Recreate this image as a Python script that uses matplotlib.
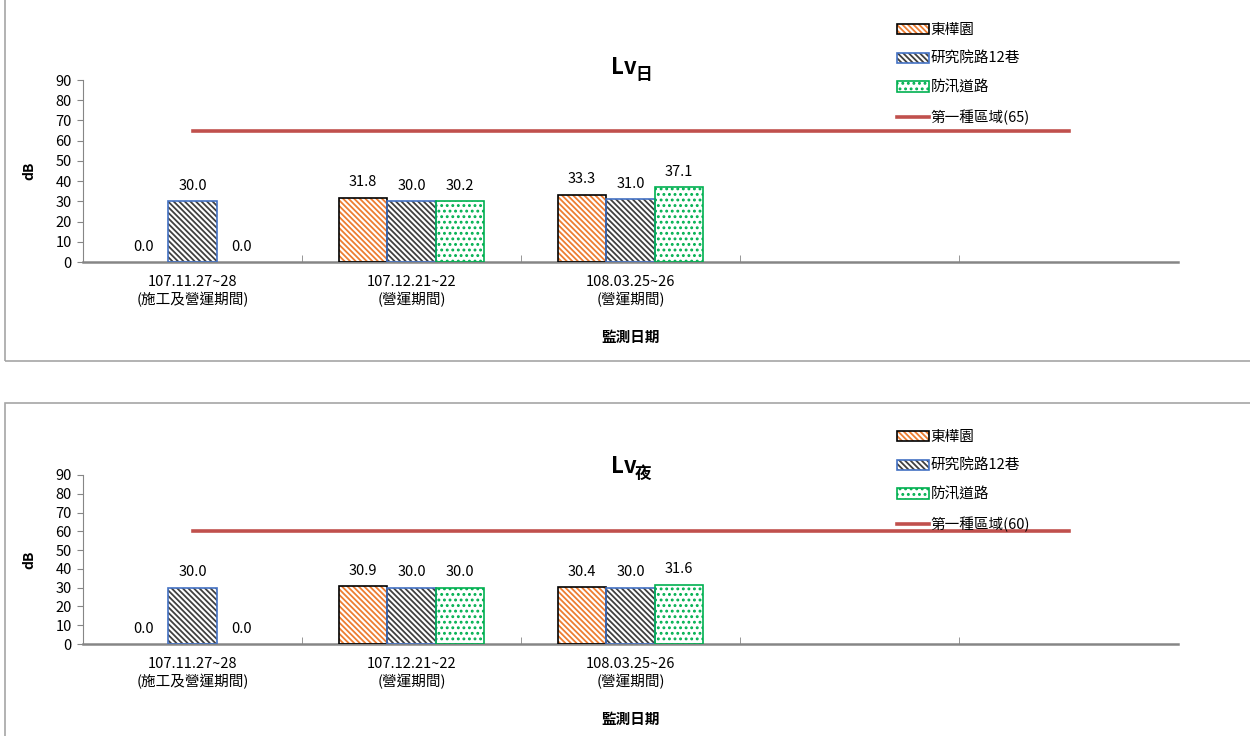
import matplotlib
matplotlib.use("Agg")
import matplotlib.pyplot as plt
from matplotlib.patches import Rectangle, Patch
from matplotlib.lines import Line2D
from matplotlib.legend_handler import HandlerTuple
import numpy as np

plt.rcParams['font.family'] = ['Noto Sans CJK TC', 'DejaVu Sans']
plt.rcParams['hatch.linewidth'] = 1.3

# categories (last two are empty slots in the original sheet)
dates = ["107.11.27~28\n(施工及營運期間)", "107.12.21~22\n(營運期間)",
         "108.03.25~26\n(營運期間)", "", ""]
stations = ["東樺園", "研究院路12巷", "防汛道路"]

# Lv day
day_a = [0.0, 31.8, 33.3]
day_b = [30.0, 30.0, 31.0]
day_c = [0.0, 30.2, 37.1]
day_limit = 65
day_limit_label = "第一種區域(65)"

# Lv night
night_a = [0.0, 30.9, 30.4]
night_b = [30.0, 30.0, 30.0]
night_c = [0.0, 30.0, 31.6]
night_limit = 60
night_limit_label = "第一種區域(60)"

hatch_cols = ['#ED7D31', '#404040', '#00B050']
edge_cols = ['#000000', '#4472C4', '#00B050']
hatches = ['\\' * 6, '\\' * 6, '...']
line_col = '#C0504D'

fig = plt.figure(figsize=(12.5, 7.36), dpi=100)

# panel frames
for y0, y1 in [(361, -5), (741, 403)]:
    fig.patches.append(Rectangle((5 / 1250, 1 - y0 / 736), 1.0, (y0 - y1) / 736,
                                 transform=fig.transFigure, fill=False,
                                 edgecolor='#A6A6A6', lw=1.2, zorder=0))


def draw_panel(ax, series, limit, limit_label, title_sub, ymax_px, title_y):
    x = np.arange(len(series[0]))
    w = 0.222
    handles = []
    for i, vals in enumerate(series):
        pos = x + (i - 1) * w
        lws = [1.2 if v > 0 else 0 for v in vals]
        ax.bar(pos, vals, w, color='white', edgecolor=hatch_cols[i],
               hatch=hatches[i], lw=0, zorder=2)
        ax.bar(pos, vals, w, fill=False, edgecolor=edge_cols[i], lw=lws, zorder=3)
        for p, v in zip(pos, vals):
            ax.annotate(f"{v:.1f}", (p, v), xytext=(0, 6), textcoords='offset points',
                        ha='center', va='bottom', fontsize=10.5)
        h1 = Patch(facecolor='white', edgecolor=hatch_cols[i], hatch=hatches[i], lw=0)
        h2 = Patch(fill=False, edgecolor=edge_cols[i], lw=1.2)
        handles.append((h1, h2))
    ax.plot(np.arange(len(dates)), [limit] * len(dates), color=line_col, lw=2.6, zorder=4)
    handles.append(Line2D([0], [0], color=line_col, lw=2.6))

    ax.set_xlim(-0.5, len(dates) - 0.5)
    ax.set_ylim(0, 90)
    ax.set_yticks(range(0, 91, 10))
    ax.set_xticks(range(len(dates)))
    ax.set_xticklabels(dates, fontsize=10.5, linespacing=1.25)
    ax.tick_params(axis='x', length=0, pad=9)
    ax.set_xticks(np.arange(0.5, len(dates) - 0.5), minor=True)
    ax.tick_params(axis='x', which='minor', direction='in', length=5, color='#868686')
    ax.tick_params(axis='y', labelsize=10.5, length=4, color='#868686', pad=4)
    for s in ['top', 'right']:
        ax.spines[s].set_visible(False)
    ax.spines['left'].set_color('#868686')
    ax.spines['bottom'].set_color('#868686')
    ax.spines['bottom'].set_linewidth(1.8)
    ax.set_ylabel("dB", fontsize=10, fontweight='bold', labelpad=14)
    ax.set_xlabel("監測日期", fontsize=10.5, fontweight='bold', labelpad=16)

    fig.legend(handles, stations + [limit_label], loc='upper left',
               bbox_to_anchor=(890 / 1250, 1 - ymax_px / 736),
               handler_map={tuple: HandlerTuple(ndivide=1)},
               frameon=False, fontsize=10.5, handlelength=2.2, handleheight=0.7,
               handletextpad=0.1, labelspacing=1.0, borderpad=0)

    fig.text(611 / 1250, 1 - title_y / 736, "Lv", fontsize=16, fontweight='bold',
             va='baseline', ha='left')
    fig.text(635 / 1250, 1 - (title_y + 6) / 736, title_sub, fontsize=12,
             fontweight='bold', va='baseline', ha='left')


ax1 = fig.add_axes([83 / 1250, 1 - 262 / 736, 1095 / 1250, 182 / 736])
draw_panel(ax1, [day_a, day_b, day_c], day_limit, day_limit_label, "日", 16, 74)

ax2 = fig.add_axes([83 / 1250, 1 - 644 / 736, 1095 / 1250, 169 / 736])
draw_panel(ax2, [night_a, night_b, night_c], night_limit, night_limit_label, "夜", 423, 473)

fig.savefig("out.png", dpi=100)
